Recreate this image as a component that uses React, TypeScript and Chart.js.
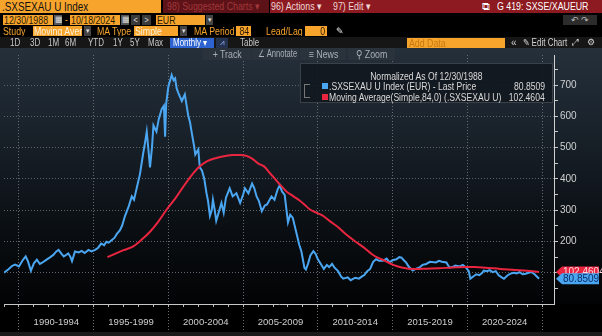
import React, { useEffect, useRef } from "react";
import { Chart, registerables } from "chart.js";

Chart.register(...registerables);

// ---------- DATA ----------
const priceYears = [
  1989.0, 1989.3, 1989.55, 1989.75, 1990.0, 1990.25, 1990.45, 1990.6, 1990.8, 1991.0,
  1991.2, 1991.4, 1991.55, 1991.85, 1992.1, 1992.3, 1992.5, 1992.65, 1992.85, 1993.0,
  1993.3, 1993.45, 1993.55, 1993.75, 1994.0, 1994.2, 1994.4, 1994.65, 1994.85, 1995.1,
  1995.3, 1995.5, 1995.7, 1995.85, 1996.0, 1996.2, 1996.4, 1996.55, 1996.75, 1996.9,
  1997.1, 1997.35, 1997.55, 1997.7, 1997.9, 1998.1, 1998.3, 1998.45, 1998.55, 1998.65,
  1998.77, 1998.9, 1999.0, 1999.2, 1999.35, 1999.55, 1999.7, 1999.78, 1999.85, 2000.0,
  2000.15, 2000.22, 2000.35, 2000.45, 2000.55, 2000.66, 2000.8, 2000.9, 2001.1, 2001.2,
  2001.33, 2001.45, 2001.55, 2001.7, 2001.8, 2002.0, 2002.1, 2002.25, 2002.4, 2002.55,
  2002.65, 2002.78, 2002.9, 2002.98, 2003.1, 2003.2, 2003.35, 2003.55, 2003.7, 2003.85,
  2004.1, 2004.3, 2004.55, 2004.8, 2005.0, 2005.12, 2005.35, 2005.6, 2005.75, 2005.9,
  2006.05, 2006.25, 2006.45, 2006.6, 2006.9, 2007.1, 2007.3, 2007.45, 2007.6, 2007.78,
  2008.0, 2008.15, 2008.32, 2008.55, 2008.75, 2008.9, 2009.1, 2009.2, 2009.35, 2009.5,
  2009.7, 2009.85, 2010.0, 2010.2, 2010.4, 2010.6, 2010.75, 2010.95, 2011.1, 2011.35,
  2011.55, 2011.7, 2012.0, 2012.2, 2012.5, 2012.75, 2013.0, 2013.1, 2013.3, 2013.5,
  2013.7, 2013.9, 2014.1, 2014.35, 2014.6, 2014.8, 2015.0, 2015.25, 2015.45, 2015.6,
  2015.75, 2015.9, 2016.1, 2016.35, 2016.55, 2016.8, 2017.0, 2017.25, 2017.5, 2017.9,
  2018.1, 2018.3, 2018.6, 2018.8, 2019.0, 2019.2, 2019.5, 2019.7, 2019.9, 2020.1,
  2020.2, 2020.4, 2020.6, 2020.8, 2021.0, 2021.1, 2021.3, 2021.5, 2021.7, 2021.9,
  2022.1, 2022.3, 2022.45, 2022.7, 2022.9, 2023.1, 2023.3, 2023.5, 2023.7, 2023.9,
  2024.1, 2024.3, 2024.5, 2024.65, 2024.8,
];
const priceValues = [
  100, 111, 122, 126, 120, 140, 152, 137, 106, 130,
  142, 128, 132, 142, 150, 157, 168, 173, 160, 152,
  162, 150, 137, 168, 165, 170, 163, 173, 168, 173,
  180, 193, 188, 199, 196, 204, 212, 224, 235, 250,
  282, 313, 344, 333, 375, 416, 478, 520, 551, 500,
  437, 500, 571, 551, 590, 623, 634, 535, 640, 696,
  720, 732, 715, 721, 690, 675, 660, 649, 670, 640,
  602, 580, 551, 510, 478, 494, 437, 426, 400, 354,
  330, 282, 300, 333, 300, 266, 290, 323, 292, 340,
  370, 344, 354, 323, 350, 370, 354, 385, 370, 344,
  330, 297, 315, 318, 344, 333, 365, 380, 360, 349,
  261, 285, 276, 230, 190, 168, 116, 110, 130, 155,
  169, 160, 143, 128, 112, 125, 118, 128, 117, 105,
  88, 81, 85, 76, 84, 81, 90, 92, 105, 112,
  135, 143, 138, 138, 145, 133, 140, 143, 150, 148,
  140, 133, 118, 107, 112, 117, 125, 128, 135, 133,
  138, 135, 133, 117, 118, 123, 120, 125, 117, 105,
  81, 88, 95, 92, 100, 107, 105, 108, 102, 105,
  92, 85, 81, 92, 97, 100, 98, 102, 95, 97,
  100, 102, 95, 88, 80.8509,
];

const maYears = [
  1995.92, 1996.5, 1997.0, 1997.65, 1998.2, 1998.77, 1999.3, 1999.9, 2000.5, 2001.0,
  2001.5, 2002.1, 2002.6, 2003.2, 2003.8, 2004.3, 2004.8, 2005.2, 2005.6, 2006.05,
  2006.4, 2006.8, 2007.4, 2007.9, 2008.35, 2008.8, 2009.1, 2009.45, 2009.9, 2010.3,
  2010.8, 2011.4, 2011.9, 2012.5, 2013.2, 2013.6, 2014.0, 2014.5, 2015.0, 2015.6,
  2016.5, 2017.3, 2018.1, 2019.0, 2019.9, 2020.5, 2021.2, 2022.2, 2023.2, 2024.0,
  2024.8,
];
const maValues = [
  150, 162, 172, 184, 205, 231, 262, 303, 340, 375,
  408, 440, 457, 467, 473, 476, 476, 474, 465, 448,
  440, 418, 385, 360, 345, 330, 318, 303, 292, 283,
  265, 244, 222, 200, 176, 160, 148, 138, 126, 117,
  112, 113, 114, 117, 118, 118, 116, 112, 109, 106,
  102.4604,
];

const periodLabels = ["1990-1994", "1995-1999", "2000-2004", "2005-2009", "2010-2014", "2015-2019", "2020-2024"];
const periodCenters = [1992.5, 1997.5, 2002.5, 2007.5, 2012.5, 2017.5, 2022.5];
const yearTicks = Array.from({ length: 37 }, (_, i) => 1989 + i);
const yTickValues = [50, 100, 150, 200, 250, 300, 350, 400, 450, 500, 550, 600, 650, 700, 750];
const yLabelValues = [200, 300, 400, 500, 600, 700];

const priceLabel = ".SXSEXAU U Index (EUR) - Last Price";
const maLabel = "Moving Average(Simple,84,0) (.SXSEXAU U)";
const lastPrice = "80.8509";
const lastMA = "102.4604";

const BLUE = "#4ba6f2";
const RED = "#ea2540";
const ORANGE = "#f7a42c";
const FONT = '"Liberation Sans", Arial, sans-serif';

const tagPlugin = {
  id: "lastTags",
  afterDraw(chart: any) {
    const ctx = chart.ctx as CanvasRenderingContext2D;
    const ys = chart.scales.y;
    const x0 = chart.chartArea.right + 2;
    const draw = (val: number, label: string, fill: string, txt: string) => {
      const y = ys.getPixelForValue(val);
      const h = 11;
      ctx.save();
      ctx.fillStyle = fill;
      ctx.beginPath();
      ctx.moveTo(x0, y);
      ctx.lineTo(x0 + 6, y - h / 2);
      ctx.lineTo(599, y - h / 2);
      ctx.lineTo(599, y + h / 2);
      ctx.lineTo(x0 + 6, y + h / 2);
      ctx.closePath();
      ctx.fill();
      ctx.fillStyle = txt;
      ctx.font = `10px ${FONT}`;
      ctx.textBaseline = "middle";
      ctx.fillText(label, x0 + 7, y + 0.5);
      ctx.restore();
    };
    draw(parseFloat(lastMA), lastMA, RED, "#ffd6dc");
    draw(parseFloat(lastPrice), lastPrice, BLUE, "#0b2d66");
  },
};

function Box(props: {
  x: number; y: number; w?: number; h: number; bg?: string; color?: string; size?: number;
  align?: string; children?: any; pad?: number; z?: number; sx?: number;
}) {
  const { x, y, w, h, bg, color, size, align, children, pad, z } = props;
  const sx = props.sx ?? 0.8;
  const origin = align === "center" ? "center" : align === "right" ? "right" : "left";
  return (
    <div
      style={{
        position: "absolute",
        left: x,
        top: y,
        width: w,
        height: h,
        background: bg || "transparent",
        color: color || "#ddd",
        fontSize: size || 10,
        lineHeight: h + "px",
        textAlign: (align as any) || "left",
        paddingLeft: pad ?? 0,
        paddingRight: align === "right" ? 2 : 0,
        boxSizing: "border-box",
        whiteSpace: "nowrap",
        overflow: "hidden",
        zIndex: z || 2,
      }}
    >
      {children !== undefined && (
        <span style={{ display: "inline-block", transform: `scaleX(${sx})`, transformOrigin: origin }}>{children}</span>
      )}
    </div>
  );
}

function LegendText(props: { left?: number; right?: number; top: number; children: any; center?: boolean }) {
  const { left, right, top, children, center } = props;
  return (
    <div
      style={{
        position: "absolute",
        left: center ? 0 : left,
        right,
        top,
        width: center ? "100%" : undefined,
        textAlign: center ? "center" : right !== undefined ? "right" : "left",
        lineHeight: "11px",
        whiteSpace: "nowrap",
      }}
    >
      <span
        style={{
          display: "inline-block",
          transform: "scaleX(0.86)",
          transformOrigin: center ? "center" : right !== undefined ? "right" : "left",
        }}
      >
        {children}
      </span>
    </div>
  );
}

export default function App() {
  const ref = useRef<HTMLCanvasElement>(null);

  useEffect(() => {
    const canvas = ref.current!;
    const chart = new Chart(canvas, {
      type: "line",
      data: {
        datasets: [
          {
            label: maLabel,
            data: maYears.map((x, i) => ({ x, y: maValues[i] })),
            borderColor: RED,
            borderWidth: 2,
            pointRadius: 0,
            cubicInterpolationMode: "monotone",
            xAxisID: "x",
            yAxisID: "y",
          },
          {
            label: priceLabel,
            data: priceYears.map((x, i) => ({ x, y: priceValues[i] })),
            borderColor: BLUE,
            borderWidth: 2,
            pointRadius: 0,
            tension: 0,
            xAxisID: "x",
            yAxisID: "y",
          },
        ],
      },
      options: {
        animation: false,
        responsive: false,
        devicePixelRatio: 1,
        layout: { padding: { left: 4, top: 1, right: 0, bottom: 0 } },
        plugins: { legend: { display: false }, tooltip: { enabled: false } },
        scales: {
          xMinor: {
            type: "linear",
            position: "bottom",
            weight: 0,
            min: 1989,
            max: 2025.8,
            afterBuildTicks: (s: any) => {
              s.ticks = yearTicks.map((v) => ({ value: v }));
            },
            afterFit: (s: any) => {
              s.height = 4;
            },
            ticks: { display: false },
            grid: { drawOnChartArea: false, tickLength: 3, color: "#b8b8b8" },
            border: { display: true, color: "#c8c8c8", width: 1 },
          },
          x: {
            type: "linear",
            position: "bottom",
            weight: 1,
            min: 1989,
            max: 2025.8,
            afterBuildTicks: (s: any) => {
              s.ticks = periodCenters.map((v) => ({ value: v }));
            },
            afterFit: (s: any) => {
              s.height = 28;
            },
            ticks: {
              callback: (_v: any, i: number) => periodLabels[i],
              color: "#cfcfcf",
              font: { size: 9.5, family: FONT },
              padding: -19,
              maxRotation: 0,
              autoSkip: false,
            },
            grid: {
              offset: true,
              color: "#666c74",
              lineWidth: 1,
              tickLength: 28,
              tickColor: "#666c74",
              tickBorderDash: [1, 2],
            },
            border: { display: false, dash: [1, 2] },
          },
          y: {
            type: "linear",
            position: "right",
            min: 0,
            max: 796,
            afterBuildTicks: (s: any) => {
              s.ticks = yTickValues.map((v) => ({ value: v }));
            },
            afterFit: (s: any) => {
              s.width = 48;
            },
            ticks: {
              callback: (v: any) => (yLabelValues.includes(v) ? String(v) : ""),
              color: "#d0d0d0",
              font: { size: 10, family: FONT },
              padding: 2,
              autoSkip: false,
            },
            grid: {
              color: (c: any) => (c.tick && c.tick.value % 100 === 0 ? "#5e646c" : "rgba(0,0,0,0)"),
              tickColor: "#c8c8c8",
              tickLength: 4,
            },
            border: { display: true, color: "#d0d0d0", dash: [1, 2] },
          },
        },
      },
      plugins: [tagPlugin],
    } as any);
    return () => chart.destroy();
  }, []);

  const btn = "#2a323b";
  return (
    <div
      style={{
        position: "fixed",
        left: 0,
        top: 0,
        width: 602,
        height: 336,
        background: "#000",
        overflow: "hidden",
        fontFamily: FONT,
      }}
    >
      {/* chart background */}
      <div
        style={{
          position: "absolute",
          left: 0,
          top: 47,
          width: 602,
          height: 257,
          background: "linear-gradient(to bottom, #25303b 0%, #1a232c 30%, #0c1116 65%, #020304 100%)",
        }}
      />
      <canvas
        ref={ref}
        width={602}
        height={289}
        style={{ position: "absolute", left: 0, top: 47, width: 602, height: 289, zIndex: 1 }}
      />

      {/* row 0 */}
      <Box x={0} y={0} w={161} h={13} bg={ORANGE} color="#111" size={13} pad={2} sx={0.76}>.SXSEXAU U Index</Box>
      <Box x={163} y={0} w={106} h={13} bg="#5c1216" color="#a3383c" size={11} pad={4}>98) Suggested Charts ▾</Box>
      <Box x={270} y={0} w={332} h={13} bg="#8d1a20" z={1} />
      <Box x={271} y={0} w={56} h={13} color="#eed8d8" size={11}>96) Actions ▾</Box>
      <Box x={333} y={0} w={45} h={13} color="#eed8d8" size={11}>97) Edit ▾</Box>
      <Box x={482} y={0} w={12} h={13} color="#ffffff" size={11} sx={1}>⧉</Box>
      <Box x={497} y={0} w={100} h={13} color="#ffffff" size={11}>G 419: SXSE/XAUEUR</Box>

      {/* row 1 */}
      <Box x={3} y={15} w={50} h={10} bg={ORANGE} color="#2a1800" size={11} pad={1}>12/30/1988</Box>
      <Box x={54} y={15} w={8} h={10} bg="#555" color="#ddd" size={8} pad={1} sx={1}>▦</Box>
      <Box x={65} y={15} w={4} h={10} color={ORANGE} size={10}>-</Box>
      <Box x={70} y={15} w={50} h={10} bg={ORANGE} color="#2a1800" size={11} pad={1}>10/18/2024</Box>
      <Box x={121} y={15} w={8} h={10} bg="#555" color="#ddd" size={8} pad={1} sx={1}>▦</Box>
      <Box x={131} y={15} w={9} h={10} bg="#3a3a3a" color="#ddd" size={9} align="center">&lt;</Box>
      <Box x={142} y={15} w={9} h={10} bg="#3a3a3a" color="#ddd" size={9} align="center">&gt;</Box>
      <Box x={156} y={15} w={49} h={10} bg={ORANGE} color="#2a1800" size={11} pad={1}>EUR</Box>
      <Box x={206} y={15} w={7} h={10} bg="#444" color="#ddd" size={7} align="center" sx={1}>▾</Box>
      <Box x={563} y={15} w={34} h={10} bg="#2c2c2c" color="#bbb" size={9} align="center" sx={1}>↶ ↷</Box>

      {/* row 2 */}
      <Box x={3} y={26} w={30} h={10} color={ORANGE} size={11}>Study</Box>
      <Box x={33} y={26} w={49} h={10} bg={ORANGE} color="#fdf0d8" size={11} pad={1}>Moving Aver</Box>
      <Box x={84} y={26} w={7} h={10} bg="#444" color="#ddd" size={7} align="center" sx={1}>▾</Box>
      <Box x={97} y={26} w={36} h={10} color={ORANGE} size={11}>MA Type</Box>
      <Box x={134} y={26} w={44} h={10} bg={ORANGE} color="#fdf0d8" size={11} pad={1}>Simple</Box>
      <Box x={180} y={26} w={7} h={10} bg="#444" color="#ddd" size={7} align="center" sx={1}>▾</Box>
      <Box x={194} y={26} w={40} h={10} color={ORANGE} size={11}>MA Period</Box>
      <Box x={236} y={26} w={15} h={10} bg={ORANGE} color="#2a1800" size={11} align="right">84</Box>
      <Box x={266} y={26} w={38} h={10} color={ORANGE} size={11}>Lead/Lag</Box>
      <Box x={305} y={26} w={22} h={10} bg={ORANGE} color="#2a1800" size={11} align="right">0</Box>
      <Box x={336} y={26} w={10} h={10} color="#eee" size={9} sx={1}>✎</Box>

      {/* row 3 */}
      <Box x={0} y={37} w={602} h={11} bg="#161616" z={1} />
      <Box x={10} y={37} w={14} h={11} color="#c8c8c8" size={10}>1D</Box>
      <Box x={30} y={37} w={14} h={11} color="#c8c8c8" size={10}>3D</Box>
      <Box x={48} y={37} w={14} h={11} color="#c8c8c8" size={10}>1M</Box>
      <Box x={65} y={37} w={14} h={11} color="#c8c8c8" size={10}>6M</Box>
      <Box x={88} y={37} w={20} h={11} color="#c8c8c8" size={10}>YTD</Box>
      <Box x={113} y={37} w={14} h={11} color="#c8c8c8" size={10}>1Y</Box>
      <Box x={130} y={37} w={14} h={11} color="#c8c8c8" size={10}>5Y</Box>
      <Box x={148} y={37} w={20} h={11} color="#c8c8c8" size={10}>Max</Box>
      <Box x={170} y={38} w={44} h={10} bg="#2c63d0" color="#fff" size={10} pad={3}>Monthly ▾</Box>
      <Box x={216} y={38} w={12} h={10} bg="#24324e" color="#8fb0ff" size={8} align="center" sx={1}>⩘</Box>
      <Box x={240} y={37} w={30} h={11} color="#c8c8c8" size={10}>Table</Box>
      <Box x={407} y={38} w={98} h={10} bg={ORANGE} color="#c77a12" size={11} pad={2}>Add Data</Box>
      <Box x={511} y={37} w={8} h={11} color="#d0d0d0" size={10} sx={1}>«</Box>
      <Box x={523} y={37} w={46} h={11} color="#d0d0d0" size={10}>✎ Edit Chart</Box>
      <Box x={572} y={37} w={10} h={11} color="#d0d0d0" size={9} sx={1}>⤢</Box>
      <Box x={587} y={37} w={10} h={11} color="#d0d0d0" size={9} sx={1}>⚙</Box>

      {/* row 4 toolbar */}
      <Box x={203} y={48} w={48} h={12} bg={btn} color="#a8b0b8" size={11} align="center">+ Track</Box>
      <Box x={252} y={48} w={47} h={12} bg={btn} color="#a8b0b8" size={10} align="center" sx={0.76}>∠ Annotate</Box>
      <Box x={300} y={48} w={46} h={12} bg={btn} color="#a8b0b8" size={11} align="center">≡ News</Box>
      <Box x={348} y={48} w={47} h={12} bg={btn} color="#a8b0b8" size={11} align="center">⚲ Zoom</Box>

      {/* legend */}
      <div
        style={{
          position: "absolute",
          left: 300,
          top: 63,
          width: 253,
          height: 40,
          background: "rgba(18,24,30,0.92)",
          border: "1px solid #3a4048",
          boxSizing: "border-box",
          zIndex: 2,
          color: "#dadada",
          fontSize: 10,
        }}
      >
        <LegendText center top={7}>Normalized As Of 12/30/1988</LegendText>
        <div style={{ position: "absolute", left: 3, top: 20, width: 5, height: 12, borderLeft: "1px solid #777", borderTop: "1px solid #777", borderBottom: "1px solid #777" }} />
        <div style={{ position: "absolute", left: 21, top: 19, width: 6, height: 6, background: BLUE }} />
        <LegendText left={28} top={17}>{priceLabel}</LegendText>
        <LegendText right={7} top={17}>{lastPrice}</LegendText>
        <div style={{ position: "absolute", left: 21, top: 30, width: 6, height: 6, background: RED }} />
        <LegendText left={28} top={28}>{maLabel}</LegendText>
        <LegendText right={7} top={28}>{lastMA}</LegendText>
      </div>

      {/* bottom strip */}
      <div style={{ position: "absolute", left: 0, top: 332, width: 602, height: 4, background: "#1a1a1a", zIndex: 2 }} />
    </div>
  );
}
